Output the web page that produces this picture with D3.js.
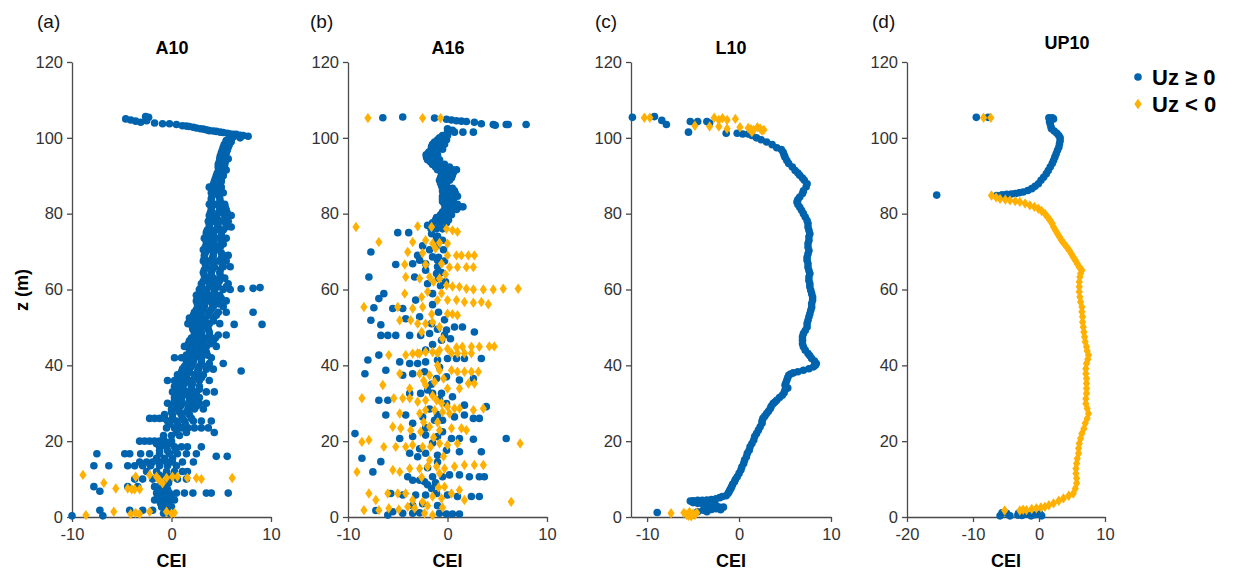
<!DOCTYPE html>
<html>
<head>
<meta charset="utf-8">
<script src="https://cdn.jsdelivr.net/npm/d3@7"></script>
<style>
  body { margin: 0; background: #fff; }
  svg { display: block; font-family: "Liberation Sans", Arial, sans-serif; }
</style>
</head>
<body>
<div id="chart-container"></div>
<script>
const width = 1235;
const height = 572;

const blueColor = "#0063ad";
const orangeColor = "#ffb000";

// shared vertical axis
const zDomain = [0, 120];
const zTicks = [0, 20, 40, 60, 80, 100, 120];

const panelLabels = ["(a)", "(b)", "(c)", "(d)"];
const panelTitles = ["A10", "A16", "L10", "UP10"];
const xDomains = [[-10, 10], [-10, 10], [-11.75, 10], [-20, 10]];
const xTickValues = [[-10, 0, 10], [-10, 0, 10], [-10, 0, 10], [-20, -10, 0, 10]];
const legendLabels = ["Uz \u2265 0", "Uz < 0"];

// ---- A10 : rows of [z, [CEI ...]] for Uz >= 0
const a10BlueRows = [
  [105.0, [-4.6]], [104.7, [-4.1]], [104.4, [-3.6]], [104.1, [-3.1]], [105.6, [-2.6]], [105.4, [-2.3]],
  [104.5, [-2.5]], [103.9, [-1.7]], [103.7, [-0.9, -0.2]], [103.5, [0.5]], [103.2, [1.1]], [103.1, [1.5]],
  [103.0, [1.8]], [102.8, [2.2]], [102.6, [2.5]], [102.4, [2.9]], [102.3, [3.2]], [102.1, [3.5]],
  [101.9, [3.8]], [101.8, [4.2]], [101.7, [4.5]], [101.5, [4.9]], [101.4, [5.2]], [101.2, [5.6]],
  [101.0, [5.9]], [100.9, [6.2, 6.5]], [100.7, [6.9]], [100.6, [7.2]], [100.4, [7.7]], [100.0, [6.9]],
  [100.2, [6.2]], [99.6, [6.0]], [99.3, [5.5]],
  [99, [5.5, 6.0]], [97.5, [5.2, 5.7]], [96, [5.0, 5.5]], [94.5, [4.85, 5.5, 5.7]], [93, [4.7, 5.35]],
  [91.5, [4.8, 5.5]], [90, [4.5, 5.2]], [88.5, [4.3, 5.0]], [87, [3.8, 4.5, 5.0]], [85.5, [4.0, 4.7, 5.2]],
  [84, [4.0, 4.85]], [82.5, [3.8, 4.5, 5.35]], [81, [4.0, 5.0, 5.5]], [79.5, [3.8, 4.5, 5.35, 6.0]],
  [78, [3.7, 4.3, 5.2, 5.7]], [76.5, [3.8, 4.7, 5.5, 6.0]], [75, [3.5, 4.2, 5.0]], [73.5, [3.3, 4.0, 4.85, 5.5]],
  [72, [3.5, 4.3, 5.2]], [70.5, [3.2, 4.0, 4.7]], [69, [3.3, 4.2, 5.2, 5.7]], [67.5, [3.2, 3.8, 4.7, 5.5]],
  [66, [3.5, 4.3, 5.2, 5.9]], [64.5, [3.2, 4.0, 4.85]], [63, [3.5, 4.2, 5.35]], [61.5, [3.0, 3.8, 4.5, 5.7]],
  [60, [2.8, 3.5, 4.3, 5.2, 5.9]], [58.5, [2.5, 3.2, 4.0, 4.85]], [57, [2.5, 3.0, 3.8, 4.5, 5.5]],
  [55.5, [2.7, 3.3, 4.2, 5.2]], [54, [2.3, 3.0, 3.8, 4.7, 5.5]], [52.5, [1.8, 2.5, 3.2, 4.2]],
  [51, [1.65, 2.15, 3.0, 3.8, 4.85]], [49.5, [2.15, 2.8, 3.7]], [48, [2.3, 3.0, 3.8, 4.7, 5.5]],
  [46.5, [1.8, 2.5, 3.2, 4.2]], [45, [1.3, 2.0, 2.7, 3.5, 4.5]], [43.5, [2.0, 2.7, 3.5]],
  [42, [0.3, 1.0, 1.65, 2.3, 3.0, 4.0]], [40.5, [1.5, 2.15, 3.0, 3.8, 5.2]], [39, [1.1, 1.8, 2.7, 3.5, 4.2]],
  [37.5, [0.6, 1.5, 2.3, 3.2]], [36, [-0.4, 0.3, 1.0, 1.8, 2.8, 3.8]], [34.5, [0.3, 1.1, 2.0, 2.8]],
  [33, [0.1, 0.8, 1.65, 2.5, 3.5, 4.3]], [31.5, [0.3, 1.0, 1.8, 2.8]], [30, [-0.4, 0.3, 1.1, 2.0, 2.8, 3.5]],
  [28.5, [0.0, 0.6, 1.65, 2.3, 3.2]], [27, [-0.7, 0.1, 1.0, 1.8]], [26, [-2.2, -1.7, -1.2, -0.7, 0.1, 1.1, 2.0]],
  [25.3, [-0.4, 0.5, 1.3, 2.2, 3.0, 4.0]], [23.5, [-0.5, 0.3, 1.0, 1.65, 2.3, 3.0, 3.7]], [22.3, [0.5, 1.5, 4.3]],
  [20, [-3.2, -2.7, -2.2, -1.7, -1.2, -0.7, 0.0]], [18.5, [-1.2, -0.5, 0.3, 1.0, 1.6, 3.0]],
  [16.7, [-7.5, -4.7, -4.2, -3.1, -2.2, -1.2, -0.2, 0.6, 1.5, 2.5]], [16, [4.5, 5.6]],
  [14.5, [-3.2, -2.5, -1.9, -1.2, -0.5, 0.1, 1.1, 2.2]], [13.5, [-7.8, -6.3, -4.4, -3.7, -2.9, -2.1, -1.2, -0.4, 0.5]],
  [12, [-2.5, -1.5, -0.5, 0.3, 1.1, 1.6]], [10, [-3.7, -2.9, -1.9, -1.2, -0.2, 0.6, 1.5]],
  [8, [-7.8, -4.4, -3.4, -1.7, -1.2, -0.7]], [6.8, [-7.2]],
  [6.3, [-1.5, -1.2, -0.9, -0.2, 0.5, 1.3, 2.15, 3.5, 4.0, 5.7]], [4.5, [-1.7, -1.2, -0.7, -0.2, 0.3]],
  [2.7, [-1.0, -0.5, 0.0]], [1.8, [-7.2, -4.2, -2.9, -1.9, -0.5]], [0.3, [-10.0, -6.9]],
  [60.2, [7.0]], [60.3, [8.2]], [60.5, [8.9]], [54.0, [8.2]], [50.8, [6.3, 9.1]], [38.5, [7.0]],
  // in-between rows of the dense column
  [98.2, [5.3, 5.8]], [96.7, [5.1, 5.6]], [95.2, [4.9, 5.4]], [93.7, [4.8, 5.4]], [92.2, [4.7, 5.3]],
  [90.7, [4.6, 5.2]], [89.2, [4.4, 5.0]], [87.7, [4.2, 4.9]], [86.2, [4.1, 4.9]], [84.7, [4.1, 4.8]],
  [83.2, [4.0, 4.9]], [81.7, [4.0, 4.8, 5.4]], [80.2, [3.9, 4.7, 5.6]], [78.7, [3.9, 4.6, 5.4]],
  [77.2, [3.8, 4.6, 5.5]], [75.7, [3.6, 4.4, 5.2]], [74.2, [3.5, 4.2, 5.0]], [72.7, [3.5, 4.2, 5.0]],
  [71.2, [3.4, 4.1, 4.9]], [69.7, [3.4, 4.2, 5.0]], [68.2, [3.3, 4.1, 5.0]], [66.7, [3.4, 4.2, 5.1]],
  [65.2, [3.3, 4.1, 4.9]], [63.7, [3.3, 4.0, 4.9]], [62.2, [3.2, 3.9, 4.8]], [60.7, [3.0, 3.8, 4.7, 5.5]],
  [59.2, [2.8, 3.5, 4.3]], [57.7, [2.7, 3.4, 4.2, 5.0]], [56.2, [2.6, 3.3, 4.1, 4.8]], [54.7, [2.5, 3.2, 4.0]],
  [53.2, [2.2, 2.9, 3.7, 4.5]], [51.7, [2.0, 2.7, 3.4, 4.2]], [50.2, [2.1, 2.8, 3.5]], [48.7, [2.3, 3.0, 3.8]],
  [47.2, [2.0, 2.8, 3.6, 4.4]], [45.7, [1.7, 2.4, 3.1, 3.9]], [44.2, [1.8, 2.5, 3.2]], [42.7, [1.5, 2.2, 2.9, 3.6]],
  [41.2, [1.5, 2.2, 3.0]], [39.7, [1.3, 2.0, 2.8, 3.5]], [38.2, [1.0, 1.8, 2.6]], [36.7, [0.8, 1.5, 2.3, 3.0]],
  [35.2, [0.6, 1.3, 2.1]], [33.7, [0.5, 1.2, 2.0, 2.8]], [32.2, [0.5, 1.2, 2.1]], [30.7, [0.3, 1.0, 1.8, 2.5]],
  [29.2, [0.2, 0.9, 1.7, 2.5]], [27.7, [0.0, 0.8, 1.5]], [24.5, [-0.2, 0.6, 1.4]], [21.5, [-0.8, 0.0, 0.8]],
  [19.3, [-1.5, -0.8, 0.0]], [17.5, [-1.2, -0.4, 0.4]], [15.5, [-1.5, -0.7, 0.1]], [11.0, [-1.2, -0.5, 0.2]],
  [9.0, [-1.0, -0.3]], [7.3, [-1.0, -0.4]], [5.3, [-1.4, -0.6, 0.0]], [3.6, [-1.1, -0.3]], [1.0, [-0.8, -0.2]]
];
// ---- A10 : [CEI, z] for Uz < 0
const a10Orange = [
  [-8.9, 11.1], [-6.8, 9.0], [-5.6, 7.5], [-4.4, 7.5], [-4.0, 7.3], [-3.7, 7.3], [-3.2, 7.3], [-3.6, 10.6],
  [-2.2, 11.1], [-1.5, 10.6], [-0.5, 10.3], [0.1, 10.6], [0.6, 10.6], [1.6, 10.3], [2.5, 10.3], [3.0, 10.0],
  [6.1, 10.3], [-1.2, 9.7], [-0.9, 8.9], [-8.6, 0.5], [-5.8, 1.4], [-4.1, 0.8], [-3.6, 1.1], [-3.2, 0.8],
  [-2.2, 1.4], [-0.5, 1.4], [0.0, 0.9], [0.3, 1.1]
];

// ---- A16 : [CEI, z]
const a16Blue = [
  [-6.5, 105.3], [-4.5, 105.5], [-1.3, 105.2], [-0.1, 104.9], [0.4, 104.7], [0.9, 104.5], [1.4, 104.4],
  [1.9, 104.3], [2.7, 104.1], [3.4, 103.7], [4.6, 103.5], [4.8, 103.3], [5.9, 103.5], [6.1, 103.5], [7.9, 103.5],
  [0.0, 102.4], [0.5, 102.0], [0.0, 101.5], [0.7, 101.5], [1.55, 101.5], [2.6, 101.5], [-0.5, 100.6], [0.0, 100.6],
  [-1.0, 99.5], [-0.5, 99.5], [-0.1, 99.5], [-1.5, 98.3], [-0.8, 98.3], [-0.3, 98.3], [-1.65, 97.0], [-1.1, 97.0],
  [-0.5, 97.0], [-2.15, 95.5], [-1.65, 95.5], [-1.0, 95.5], [-2.0, 94.2], [-1.3, 94.2], [-0.8, 94.2],
  [-1.5, 93.0], [-1.0, 93.0], [-0.3, 93.0], [-1.0, 91.6], [-0.1, 91.6], [0.5, 91.6], [0.9, 91.6],
  [-0.6, 90.2], [0.0, 90.2], [0.5, 90.2], [-0.8, 88.8], [-0.3, 88.8], [0.2, 88.8], [-0.6, 87.4], [-0.1, 87.4],
  [-0.5, 86.0], [0.2, 86.0], [0.7, 86.0], [-0.5, 84.6], [0.4, 84.6], [1.0, 84.6], [-0.5, 83.2], [0.0, 83.2],
  [-0.1, 81.8], [0.5, 81.8], [1.2, 81.8], [1.55, 81.8], [-0.5, 80.4], [0.2, 80.4], [-1.1, 79.0], [-0.5, 79.0],
  [0.0, 79.0], [-1.5, 77.6], [-0.8, 77.6], [-0.1, 77.6], [-1.65, 76.0], [-1.1, 76.0], [-0.5, 76.0],
  [-0.8, 100.0], [-0.3, 100.0], [-1.3, 98.9], [-0.6, 98.9], [-1.6, 97.7], [-0.9, 97.7], [-1.9, 96.2], [-1.3, 96.2],
  [-2.1, 94.8], [-1.5, 94.8], [-1.7, 93.6], [-1.0, 93.6], [-1.2, 92.3], [-0.4, 92.3], [0.2, 92.3],
  [-0.6, 90.9], [0.1, 90.9], [0.6, 90.9], [-0.7, 89.5], [-0.1, 89.5], [0.4, 89.5], [-0.7, 88.1], [-0.1, 88.1],
  [-0.5, 86.7], [0.1, 86.7], [0.5, 86.7], [-0.4, 85.3], [0.3, 85.3], [0.8, 85.3], [-0.5, 83.9], [0.1, 83.9],
  [0.6, 83.9], [-0.3, 82.5], [0.4, 82.5], [1.0, 82.5], [-0.3, 81.1], [0.4, 81.1], [0.9, 81.1],
  [-0.7, 79.7], [-0.1, 79.7], [0.4, 79.7], [-1.2, 78.3], [-0.5, 78.3], [0.1, 78.3],
  [-1.0, 74.0], [-0.5, 73.0], [-1.1, 71.5], [-0.4, 70.5], [-0.9, 68.5], [-0.3, 67.5], [-1.0, 66.0],
  [-0.6, 64.5], [-0.9, 63.0], [-0.2, 62.0], [-0.7, 61.0],
  [-5.0, 75.0], [-3.9, 75.0], [-2.0, 76.9], [-1.6, 74.7], [-1.1, 73.8], [-1.0, 73.0],
  [-7.7, 69.9], [-5.2, 66.6], [-3.5, 66.8], [-2.8, 67.7], [-2.2, 66.8], [-1.5, 68.6], [-1.0, 67.7],
  [-7.9, 63.3], [-3.3, 63.3], [-2.2, 65.1], [-1.1, 64.2],
  [-6.9, 57.6], [-6.4, 58.9], [-7.4, 55.2], [-5.5, 55.0], [-4.5, 55.0], [-3.2, 57.2], [-1.5, 58.9],
  [-7.7, 51.9], [-6.7, 50.7], [-4.2, 52.3], [-2.8, 52.8], [-1.6, 51.0],
  [-6.7, 47.9], [-6.0, 47.9], [-5.2, 47.9], [-3.8, 47.9], [-2.7, 47.9], [-1.8, 48.4], [-0.6, 46.6],
  [-0.1, 49.3], [0.7, 50.1], [1.5, 50.1], [2.7, 48.8],
  [-8.0, 41.4], [-6.9, 42.7], [-4.8, 40.9], [-3.8, 40.5], [-3.0, 40.5], [-2.2, 40.9], [-1.0, 41.4],
  [0.0, 41.8], [0.9, 41.8], [1.7, 41.8], [3.4, 41.8],
  [-8.3, 37.8], [-6.2, 38.7], [-4.5, 37.4], [-3.5, 37.8], [-2.3, 38.3], [-1.1, 36.5], [-0.1, 37.0],
  [1.2, 36.1], [2.6, 36.5],
  [-6.9, 30.8], [-6.0, 30.8], [-3.8, 32.6], [-2.7, 32.6], [-1.5, 32.6], [-0.6, 32.6], [-0.1, 29.9],
  [0.5, 31.7], [1.7, 29.5], [3.9, 29.1],
  [-6.2, 26.9], [-4.2, 26.9], [-3.5, 24.7], [-2.5, 26.4], [-1.3, 25.5], [-0.5, 25.5], [0.7, 26.4],
  [1.7, 26.9], [2.6, 26.0], [3.2, 26.0],
  [-9.3, 22.0], [-4.8, 20.7], [-3.5, 21.2], [-2.2, 21.6], [-1.0, 21.2], [0.4, 20.7], [1.2, 20.7],
  [2.6, 20.5], [5.9, 20.7],
  [-8.6, 15.5], [-7.5, 11.9], [-6.7, 14.6], [-3.8, 16.8], [-3.0, 15.9], [-2.2, 16.8], [-1.0, 16.3],
  [-0.1, 17.6], [1.2, 17.2], [3.4, 17.2],
  [-4.0, 10.6], [-3.5, 9.7], [-2.8, 9.7], [-2.3, 9.3], [-1.5, 10.6], [-0.5, 10.6], [0.2, 11.1],
  [1.2, 11.1], [2.2, 10.6], [3.2, 10.6], [3.7, 10.6],
  [-5.7, 6.2], [-4.5, 5.8], [-3.2, 5.8], [-2.2, 5.8], [-1.1, 6.2], [0.0, 5.8], [1.0, 5.4], [2.4, 5.4], [3.2, 5.4],
  [-7.2, 1.7], [-6.0, 0.5], [-5.5, 1.4], [-4.5, 1.0], [-3.5, 1.0], [-2.8, 1.1], [-0.8, 1.0], [-0.1, 0.8],
  [0.5, 0.8], [1.2, 0.8],
  [-1.8, 70.5], [-2.5, 71.5], [-3.0, 69.0], [-2.0, 61.5], [-1.5, 56.0], [-0.9, 54.0], [-0.3, 52.0], [-1.0, 49.5],
  [-0.3, 48.0], [0.3, 47.0], [-1.5, 45.5], [-2.2, 44.0], [-0.8, 39.5], [-1.6, 35.0], [-2.0, 33.5], [-0.8, 31.0],
  [-1.8, 28.5], [-1.0, 27.0], [-2.2, 23.5], [-0.5, 22.5], [-1.5, 19.5], [-2.8, 18.0], [-1.0, 14.5], [-2.0, 13.0],
  [-1.2, 9.0], [-2.0, 8.5], [-1.6, 7.5], [-2.5, 3.5], [-1.0, 3.0], [-3.5, 3.0]
];
const a16Orange = [
  [-8.0, 105.2], [-2.5, 105.2], [-0.7, 105.2],
  [-9.2, 76.5], [-6.9, 72.5], [-3.0, 76.7], [-1.6, 76.5], [-0.1, 76.0], [0.5, 75.6], [1.0, 75.2],
  [-3.5, 72.5], [-2.2, 73.0], [-1.5, 72.1], [-0.8, 72.3], [0.0, 72.1],
  [-4.0, 69.9], [-2.5, 69.6], [0.0, 69.0], [0.9, 69.0], [1.4, 69.0], [2.1, 69.0], [2.7, 69.0],
  [-4.3, 66.6], [-2.2, 66.6], [-0.6, 66.8], [0.2, 65.9], [1.0, 65.9], [1.9, 65.9], [2.6, 65.9],
  [-4.2, 63.3], [-2.8, 62.9], [-1.8, 63.3], [-0.8, 62.9],
  [-0.1, 61.1], [0.5, 60.8], [1.2, 60.7], [1.9, 60.2], [2.6, 60.0], [3.6, 60.0], [4.6, 60.0], [5.6, 60.2], [7.1, 60.2],
  [-4.3, 58.9], [-2.0, 59.4], [-1.0, 57.2], [0.0, 57.2], [0.9, 57.2], [1.7, 56.7], [2.6, 56.5], [3.4, 56.7], [4.1, 56.1],
  [-8.4, 55.4], [-5.0, 55.4], [-3.5, 55.0], [-2.5, 55.4], [0.0, 53.6], [0.5, 53.5], [1.0, 53.2],
  [-4.8, 51.9], [-3.7, 51.9], [-3.0, 51.0], [-2.2, 51.0], [-1.5, 51.4], [-0.8, 50.1],
  [-5.9, 42.7], [-4.2, 42.7], [-3.5, 43.1], [-2.8, 43.1], [-2.2, 43.5], [-1.5, 43.5], [-0.8, 44.0], [0.0, 44.4],
  [0.9, 44.7], [1.5, 44.9], [2.4, 44.9], [3.2, 44.9], [4.2, 45.0], [4.7, 45.0],
  [-3.0, 43.2], [-1.0, 43.2], [0.4, 43.2], [1.0, 43.2], [1.7, 43.2], [2.4, 43.2],
  [-4.8, 37.8], [-2.8, 37.8], [-1.8, 37.4], [-0.8, 38.7], [0.4, 38.7], [1.0, 38.3], [1.7, 38.3], [2.4, 38.3], [3.1, 38.3],
  [-6.5, 34.8], [-3.8, 33.9], [-2.2, 34.8], [-1.3, 35.6], [0.0, 33.9], [1.2, 33.9], [2.1, 35.2], [2.7, 35.2],
  [-8.6, 31.3], [-5.4, 31.3], [-4.5, 31.3], [-3.8, 31.3], [-3.0, 30.4], [-2.2, 30.8], [-1.1, 30.8], [0.0, 29.1],
  [0.7, 28.6], [1.2, 28.6], [2.6, 28.2], [3.6, 28.6],
  [-4.8, 27.3], [-2.8, 27.3], [-2.2, 28.2], [-1.3, 28.2], [-0.5, 27.7], [0.2, 27.3],
  [-5.5, 23.8], [-4.7, 23.4], [-3.7, 22.9], [-2.7, 22.5], [-1.8, 23.8], [-0.8, 22.9], [0.4, 23.4], [1.4, 23.4], [1.9, 22.9],
  [-8.6, 19.8], [-7.9, 20.3], [-6.4, 18.5], [-5.2, 18.5], [-4.2, 18.5], [-3.5, 19.0], [-2.5, 18.5], [-1.7, 18.5],
  [-0.8, 19.4], [0.0, 19.0], [1.0, 19.4], [7.3, 19.4],
  [-9.1, 11.9], [-5.5, 12.4], [-4.8, 11.9], [-3.8, 12.8], [-2.8, 12.8], [-2.0, 13.3], [-1.1, 13.3], [-0.3, 12.8],
  [0.7, 13.3], [1.7, 13.7], [2.7, 13.7], [3.6, 13.7],
  [-7.9, 6.2], [-7.2, 4.5], [-6.0, 6.2], [-5.0, 6.2], [-4.2, 6.2], [-3.5, 4.5], [-2.5, 4.0], [-1.5, 5.4],
  [-0.6, 4.9], [0.4, 6.2], [1.2, 7.1], [1.7, 4.5], [6.4, 4.0],
  [-8.4, 1.8], [-6.9, 1.8], [-5.9, 2.3], [-4.9, 2.0], [-4.0, 2.7], [-3.3, 2.3], [-2.3, 1.0], [-1.5, 0.5],
  [-1.2, 70.8], [-0.2, 64.0], [-1.4, 62.0], [-0.6, 59.0], [-2.6, 58.0], [-1.6, 53.5], [-2.6, 48.8], [-0.5, 47.0],
  [-1.0, 40.0], [-2.4, 36.0], [-0.4, 36.5], [-1.5, 32.0], [-0.6, 30.0], [-1.0, 25.0], [-2.4, 25.0], [-1.4, 21.0],
  [-0.4, 16.0], [-1.8, 15.0], [-0.8, 11.5], [-2.6, 10.5], [-0.3, 8.0], [-0.9, 7.8], [-2.0, 3.0], [-0.5, 2.5]
];

// ---- L10 : [CEI, z]
const l10Blue = [
  [1.0, 101.0], [1.4, 100.6], [1.9, 100.0], [2.4, 99.5], [3.0, 98.9], [3.6, 98.2], [4.1, 97.4], [4.6, 96.9],
  [4.8, 96.2], [4.9, 95.5], [5.0, 94.9], [5.2, 94.0], [5.4, 93.2], [5.8, 92.3], [6.1, 91.4], [6.4, 90.7],
  [6.6, 90.1], [6.9, 89.4], [7.1, 88.8], [7.4, 87.9], [7.3, 87.1], [7.0, 86.0], [6.9, 85.3], [6.6, 84.4],
  [6.4, 83.7], [6.3, 83.1], [6.4, 82.4], [6.6, 81.7], [6.8, 80.9], [7.0, 80.0], [7.2, 79.1], [7.4, 78.2],
  [7.5, 77.4], [7.5, 76.5], [7.6, 75.6], [7.7, 74.7], [7.6, 73.9], [7.6, 73.0], [7.5, 72.1], [7.5, 71.2],
  [7.6, 70.3], [7.5, 69.4], [7.4, 68.5], [7.4, 67.7], [7.5, 66.8], [7.5, 65.9], [7.6, 65.0], [7.7, 64.2],
  [7.6, 63.3], [7.6, 62.4], [7.7, 61.5], [7.7, 60.7], [7.8, 59.8], [7.9, 58.9], [8.0, 58.0], [8.0, 57.2],
  [7.9, 56.3], [7.9, 55.4], [7.8, 54.5], [7.7, 53.6], [7.6, 52.8], [7.5, 51.9], [7.4, 51.0], [7.4, 50.1],
  [7.2, 49.2], [7.0, 48.4], [6.9, 47.5], [6.9, 46.6], [6.9, 45.7], [7.0, 44.9], [7.2, 44.0], [7.5, 43.1],
  [7.7, 42.5], [7.9, 41.8], [8.2, 41.1], [8.4, 40.5], [8.3, 40.0], [8.1, 39.6], [7.6, 39.1], [7.0, 38.7],
  [6.4, 38.3], [5.9, 38.0], [5.6, 37.7], [5.4, 37.4], [5.3, 36.8], [5.2, 36.1], [5.1, 35.4], [5.0, 34.8],
  [5.3, 34.0], [5.0, 33.5], [4.9, 32.8], [4.7, 32.1], [4.4, 31.5], [4.1, 30.8], [3.9, 30.3], [3.7, 29.9],
  [3.5, 29.2], [3.4, 28.6], [3.2, 27.9], [3.0, 27.3], [2.8, 26.6], [2.6, 26.0], [2.5, 25.3], [2.5, 24.7],
  [2.3, 23.8], [2.1, 22.9], [1.9, 22.0], [1.7, 21.2], [1.6, 20.3], [1.4, 19.4], [1.2, 18.5], [1.1, 17.6],
  [0.9, 16.8], [0.8, 15.9], [0.6, 15.0], [0.5, 14.1], [0.3, 13.2], [0.2, 12.4], [0.0, 11.5], [-0.2, 10.6],
  [-0.4, 9.9], [-0.5, 9.3], [-0.7, 8.6], [-0.8, 8.0], [-0.9, 7.5], [-1.0, 7.1], [-1.1, 6.6], [-1.2, 6.2],
  [-1.4, 5.6], [-1.8, 5.4], [-2.1, 5.1], [-2.5, 4.8], [-3.0, 4.6], [-3.5, 4.5], [-4.0, 4.4], [-4.5, 4.4],
  [-5.0, 4.3], [-5.3, 4.2], [-5.0, 3.8], [-4.5, 3.6], [-4.0, 3.5], [-3.5, 3.4], [-3.0, 3.3], [-2.5, 3.0],
  [-2.2, 2.6], [-1.7, 2.6], [-2.0, 1.9], [-2.5, 2.2], [-3.0, 2.0], [-3.5, 1.9], [-3.9, 1.8],
  [-8.9, 1.2], [-4.5, 1.4], [-3.5, 1.4], [-5.0, 0.5],
  [-11.6, 105.4], [-9.2, 105.6], [-8.4, 104.6], [-7.9, 103.5], [-5.5, 101.5], [-5.3, 104.3], [-4.5, 104.3],
  [-3.5, 104.3], [-3.2, 103.9], [-1.4, 101.2], [-0.2, 101.2], [0.4, 101.0]
];
const l10Orange = [
  [-10.3, 105.3], [-9.7, 105.3], [-4.8, 103.2], [-3.2, 103.0], [-2.7, 105.3], [-2.2, 104.7], [-2.2, 103.0],
  [-1.8, 105.2], [-1.3, 104.7], [-1.3, 102.4], [-0.4, 105.0], [0.1, 102.8], [1.0, 102.6], [1.3, 102.3],
  [1.6, 102.1], [2.0, 102.8], [2.3, 102.4], [2.5, 101.9], [2.7, 102.1], [1.4, 101.5],
  [-7.4, 1.0], [-6.0, 1.1], [-5.7, 0.6], [-5.4, 1.3], [-5.2, 0.2], [-5.0, 0.9], [-4.8, 0.5], [-4.6, 1.1], [-5.5, 0.3]
];

// ---- UP10 : [CEI, z]
const up10Blue = [
  [-15.5, 84.9], [-9.5, 105.4], [-7.7, 105.4],
  [1.5, 105.3], [2.0, 105.3], [2.2, 105.0], [1.6, 104.3], [1.7, 103.7], [1.8, 103.0], [1.9, 102.4],
  [2.3, 101.8], [2.7, 101.2], [3.0, 100.6], [3.2, 100.0], [3.2, 99.2], [3.1, 98.4], [3.0, 97.5], [2.8, 96.7],
  [2.6, 95.8], [2.4, 94.9], [2.2, 94.0], [2.0, 93.2], [1.7, 92.3], [1.4, 91.4], [1.1, 90.5], [0.7, 89.6],
  [0.3, 88.8], [-0.1, 87.9], [-0.6, 87.2], [-1.1, 86.6], [-1.7, 86.1], [-2.4, 85.7], [-3.0, 85.5], [-3.6, 85.3],
  [-4.2, 85.2], [-4.9, 85.1], [-5.6, 85.0], [-6.4, 84.8],
  [-5.9, 0.3], [-5.6, 1.1], [-4.9, 1.0], [-4.4, 0.3], [-3.1, 1.0], [-3.2, 0.5], [-2.6, 0.4], [-1.9, 0.8],
  [-1.2, 0.3], [-0.6, 0.6], [0.15, 0.8], [0.4, 0.3]
];
const up10Orange = [
  [-8.4, 105.3], [-7.3, 105.3],
  [-7.2, 84.8], [-6.5, 84.3], [-5.9, 83.9], [-5.1, 83.7], [-4.4, 83.5], [-3.6, 83.3], [-2.9, 83.1], [-2.1, 82.7],
  [-1.4, 82.2], [-0.7, 81.8], [-0.1, 81.3], [0.4, 80.7], [0.9, 80.0], [1.3, 79.1], [1.7, 78.2], [2.0, 77.4],
  [2.2, 76.5], [2.5, 75.6], [2.8, 74.7], [3.1, 73.9], [3.4, 73.0], [3.8, 72.1], [4.2, 71.2], [4.6, 70.3],
  [4.9, 69.4], [5.2, 68.5], [5.5, 67.7], [5.8, 66.8], [6.1, 65.9], [6.5, 65.1], [6.3, 64.2], [6.2, 63.3],
  [6.1, 62.0], [6.1, 60.7], [6.1, 59.4], [6.2, 58.0], [6.3, 56.7], [6.5, 55.4], [6.5, 54.1], [6.6, 52.8],
  [6.6, 51.4], [6.7, 50.1], [6.8, 48.8], [6.9, 47.5], [7.0, 46.2], [7.2, 44.9], [7.3, 43.8], [7.5, 42.7],
  [7.4, 41.6], [7.2, 40.5], [7.1, 39.1], [7.1, 37.8], [7.2, 36.5], [7.2, 35.2], [7.2, 33.9], [7.2, 32.6],
  [7.1, 31.2], [7.1, 29.9], [7.3, 28.6], [7.5, 27.3], [7.3, 26.0], [7.0, 24.7], [6.8, 23.3], [6.5, 22.0],
  [6.3, 20.7], [6.1, 19.4], [6.0, 18.1], [6.0, 16.8], [5.8, 15.4], [5.7, 14.1], [5.6, 12.8], [5.6, 11.5],
  [5.7, 10.2], [5.7, 8.9], [5.5, 7.5], [5.2, 6.2], [4.5, 5.6], [3.7, 4.9], [3.0, 4.3], [2.2, 3.6],
  [1.5, 3.1], [0.9, 2.7], [0.3, 2.5], [-0.4, 2.3], [-1.1, 2.1], [-1.9, 1.8], [-2.4, 1.9], [-2.9, 1.7], [-5.2, 1.7]
];

const a10Blue = a10BlueRows.flatMap(([z, xs]) => xs.map(x => [x, z]));
const blueSets = [a10Blue, a16Blue, l10Blue, up10Blue];
const orangeSets = [a10Orange, a16Orange, l10Orange, up10Orange];

// layout of the four panels (pixels)
const plotTop = 62, plotBottom = 517;
const panelLeft = [72, 348, 631, 907];
const panelRight = [271, 547, 831, 1105];
const labelX = [37, 310, 595, 872];
const titleX = [172, 448, 731, 1067];
const titleY = [54, 54, 54, 49];

const axisColor = "#4a4a4a";
const tickTextColor = "#333";
const diamond = "M0,-5.2L3.6,0L0,5.2L-3.6,0Z";

const svg = d3.select("#chart-container")
    .append("svg")
    .attr("width", width)
    .attr("height", height);

const yScale = d3.scaleLinear().domain(zDomain).range([plotBottom, plotTop]);

panelTitles.forEach((title, i) => {
    const xScale = d3.scaleLinear().domain(xDomains[i]).range([panelLeft[i], panelRight[i]]);
    const g = svg.append("g");

    // x axis
    const xAxis = g.append("g")
        .attr("transform", `translate(0, ${plotBottom})`)
        .call(d3.axisBottom(xScale).tickValues(xTickValues[i]).tickSize(5).tickSizeOuter(0).tickPadding(6)
            .tickFormat(d3.format("d")));
    // y axis
    const yAxis = g.append("g")
        .attr("transform", `translate(${panelLeft[i]}, 0)`)
        .call(d3.axisLeft(yScale).tickValues(zTicks).tickSize(5).tickSizeOuter(0).tickPadding(4));

    [xAxis, yAxis].forEach(ax => {
        ax.select(".domain").attr("stroke", axisColor).attr("stroke-width", 1.3);
        ax.selectAll(".tick line").attr("stroke", axisColor).attr("stroke-width", 1.3);
        ax.selectAll(".tick text")
            .attr("fill", tickTextColor)
            .style("font-size", "16.5px")
            .style("font-family", "'Liberation Sans', Arial, sans-serif");
    });
    xAxis.selectAll(".tick text").text(d => d < 0 ? "-" + Math.abs(d) : d);

    // points: blue first, then orange diamonds on top
    g.append("g").selectAll("circle")
        .data(blueSets[i])
        .join("circle")
        .attr("cx", d => xScale(d[0]))
        .attr("cy", d => yScale(d[1]))
        .attr("r", 3.8)
        .attr("fill", blueColor);

    g.append("g").selectAll("path")
        .data(orangeSets[i])
        .join("path")
        .attr("d", diamond)
        .attr("transform", d => `translate(${xScale(d[0])}, ${yScale(d[1])})`)
        .attr("fill", orangeColor);

    // panel letter
    svg.append("text")
        .attr("x", labelX[i])
        .attr("y", 28)
        .style("font-size", "19px")
        .attr("fill", "#111")
        .text(panelLabels[i]);

    // panel title
    svg.append("text")
        .attr("x", titleX[i])
        .attr("y", titleY[i])
        .attr("text-anchor", "middle")
        .style("font-size", "18px")
        .style("font-weight", "bold")
        .text(title);

    // x axis name
    svg.append("text")
        .attr("x", (panelLeft[i] + panelRight[i]) / 2)
        .attr("y", 567)
        .attr("text-anchor", "middle")
        .style("font-size", "18px")
        .style("font-weight", "bold")
        .text("CEI");
});

// y axis name
svg.append("text")
    .attr("transform", "rotate(-90)")
    .attr("x", -290)
    .attr("y", 28)
    .attr("text-anchor", "middle")
    .style("font-size", "18px")
    .style("font-weight", "bold")
    .text("z (m)");

// legend
const legend = svg.append("g").attr("transform", "translate(1138, 77)");
legend.append("circle").attr("cx", 0).attr("cy", 0).attr("r", 3.8).attr("fill", blueColor);
legend.append("path").attr("d", diamond).attr("transform", "translate(0, 27)").attr("fill", orangeColor);
legendLabels.forEach((label, i) => {
    legend.append("text")
        .attr("x", 14)
        .attr("y", i * 27 + 8)
        .style("font-size", "22px")
        .style("font-weight", "bold")
        .text(label);
});
</script>
</body>
</html>
